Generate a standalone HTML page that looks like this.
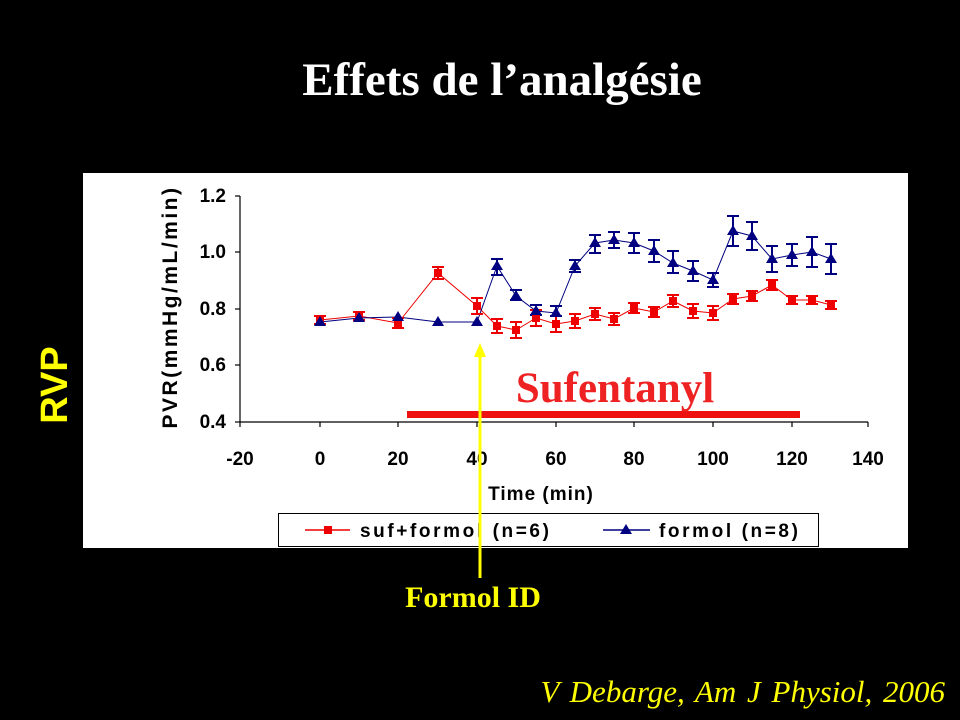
<!DOCTYPE html>
<html><head><meta charset="utf-8"><style>
html,body{margin:0;padding:0;background:#000;width:960px;height:720px;overflow:hidden}
</style></head><body>
<svg width="960" height="720" xmlns="http://www.w3.org/2000/svg">
<rect width="960" height="720" fill="#000"/>
<text x="502" y="95" fill="#fff" font-family="Liberation Serif" font-weight="bold" font-size="47" text-anchor="middle">Effets de l’analgésie</text>
<rect x="83" y="173" width="825" height="375" fill="#fff"/>
<text transform="translate(67,385) rotate(-90)" fill="#ff0" font-family="Liberation Sans" font-weight="bold" font-size="38" text-anchor="middle">RVP</text>
<text transform="translate(177,307) rotate(-90)" fill="#000" font-family="Liberation Sans" font-weight="bold" font-size="21" text-anchor="middle" letter-spacing="2.5">PVR(mmHg/mL/min)</text>
<g stroke="#000" stroke-width="1.2">
<line x1="240" y1="196" x2="240" y2="422"/><line x1="240" y1="422" x2="868" y2="422"/>
<line x1="235" y1="196" x2="240" y2="196"/><line x1="235" y1="252" x2="240" y2="252"/><line x1="235" y1="309" x2="240" y2="309"/><line x1="235" y1="365" x2="240" y2="365"/><line x1="235" y1="422" x2="240" y2="422"/>
<line x1="240" y1="422" x2="240" y2="427"/><line x1="320" y1="422" x2="320" y2="427"/><line x1="398" y1="422" x2="398" y2="427"/><line x1="477" y1="422" x2="477" y2="427"/><line x1="556" y1="422" x2="556" y2="427"/><line x1="634" y1="422" x2="634" y2="427"/><line x1="713" y1="422" x2="713" y2="427"/><line x1="792" y1="422" x2="792" y2="427"/><line x1="868" y1="422" x2="868" y2="427"/>
</g>
<g font-family="Liberation Sans" font-weight="bold" font-size="19" fill="#000" text-anchor="end">
<text x="226" y="202">1.2</text><text x="226" y="258">1.0</text><text x="226" y="315">0.8</text><text x="226" y="371">0.6</text><text x="226" y="428">0.4</text>
</g>
<g font-family="Liberation Sans" font-weight="bold" font-size="19" fill="#000" text-anchor="middle">
<text x="240" y="465">-20</text><text x="320" y="465">0</text><text x="398" y="465">20</text><text x="477" y="465">40</text><text x="556" y="465">60</text><text x="634" y="465">80</text><text x="713" y="465">100</text><text x="792" y="465">120</text><text x="868" y="465">140</text>
<text x="541" y="500" letter-spacing="1">Time (min)</text>
</g>
<polyline fill="none" stroke="#e00" stroke-width="1" points="320,320 359,316 398,323 438,273 477,306 497,326 516,330 536,318 556,324 575,321 595,314 614,319 634,308 654,312 673,301 693,311 713,313 733,299 752,296 772,285 792,300 812,300 831,305"/>
<polyline fill="none" stroke="#000080" stroke-width="1" points="320,322 359,318 398,317 438,322 477,322 497,266 516,296 536,311 556,313 575,266 595,243 614,240 634,243 654,251 673,263 693,271 713,280 733,231 752,236 772,259 792,255 812,252 831,259"/>
<g stroke-width="2">
<path stroke="#e00" d="M314,316h12M320,316v8M314,324h12 M353,312h12M359,312v8M353,320h12 M392,318h12M398,318v10M392,328h12 M432,267h12M438,267v12M432,279h12 M471,298h12M477,298v16M471,314h12 M491,319h12M497,319v14M491,333h12 M510,322h12M516,322v16M510,338h12 M530,310h12M536,310v16M530,326h12 M550,316h12M556,316v16M550,332h12 M569,314h12M575,314v14M569,328h12 M589,308h12M595,308v12M589,320h12 M608,313h12M614,313v12M608,325h12 M628,303h12M634,303v10M628,313h12 M648,307h12M654,307v10M648,317h12 M667,295h12M673,295v12M667,307h12 M687,304h12M693,304v14M687,318h12 M707,306h12M713,306v14M707,320h12 M727,294h12M733,294v10M727,304h12 M746,291h12M752,291v10M746,301h12 M766,280h12M772,280v10M766,290h12 M786,296h12M792,296v8M786,304h12 M806,296h12M812,296v8M806,304h12 M825,301h12M831,301v8M825,309h12"/>
<path stroke="#000080" d="M491,259h12M497,259v16M491,275h12 M510,290h12M516,290v10M510,300h12 M530,305h12M536,305v10M530,315h12 M550,306h12M556,306v10M550,316h12 M569,260h12M575,260v12M569,272h12 M589,235h12M595,235v18M589,253h12 M608,232h12M614,232v16M608,248h12 M628,233h12M634,233v20M628,253h12 M648,240h12M654,240v22M648,262h12 M667,251h12M673,251v22M667,273h12 M687,261h12M693,261v20M687,281h12 M707,273h12M713,273v14M707,287h12 M727,216h12M733,216v30M727,246h12 M746,222h12M752,222v28M746,250h12 M766,246h12M772,246v26M766,272h12 M786,244h12M792,244v22M786,266h12 M806,237h12M812,237v30M806,267h12 M825,244h12M831,244v30M825,274h12"/>
</g>
<g fill="#e00">
<rect x="316" y="316" width="8" height="8"/><rect x="355" y="312" width="8" height="8"/><rect x="394" y="319" width="8" height="8"/><rect x="434" y="269" width="8" height="8"/><rect x="473" y="302" width="8" height="8"/><rect x="493" y="322" width="8" height="8"/><rect x="512" y="326" width="8" height="8"/><rect x="532" y="314" width="8" height="8"/><rect x="552" y="320" width="8" height="8"/><rect x="571" y="317" width="8" height="8"/><rect x="591" y="310" width="8" height="8"/><rect x="610" y="315" width="8" height="8"/><rect x="630" y="304" width="8" height="8"/><rect x="650" y="308" width="8" height="8"/><rect x="669" y="297" width="8" height="8"/><rect x="689" y="307" width="8" height="8"/><rect x="709" y="309" width="8" height="8"/><rect x="729" y="295" width="8" height="8"/><rect x="748" y="292" width="8" height="8"/><rect x="768" y="281" width="8" height="8"/><rect x="788" y="296" width="8" height="8"/><rect x="808" y="296" width="8" height="8"/><rect x="827" y="301" width="8" height="8"/>
</g>
<g fill="#000080">
<path d="M320,316l-6,10h12z M359,312l-6,10h12z M398,311l-6,10h12z M438,316l-6,10h12z M477,316l-6,10h12z M497,260l-6,10h12z M516,290l-6,10h12z M536,305l-6,10h12z M556,307l-6,10h12z M575,260l-6,10h12z M595,237l-6,10h12z M614,234l-6,10h12z M634,237l-6,10h12z M654,245l-6,10h12z M673,257l-6,10h12z M693,265l-6,10h12z M713,274l-6,10h12z M733,225l-6,10h12z M752,230l-6,10h12z M772,253l-6,10h12z M792,249l-6,10h12z M812,246l-6,10h12z M831,253l-6,10h12z"/>
</g>
<rect x="407" y="411" width="393" height="7" fill="#ee1111"/>
<text x="615" y="402" fill="#ee2222" font-family="Liberation Serif" font-weight="bold" font-size="43" text-anchor="middle">Sufentanyl</text>
<rect x="278.5" y="513.5" width="540" height="33" fill="#fff" stroke="#000" stroke-width="1"/>
<line x1="305" y1="530" x2="350" y2="530" stroke="#e00" stroke-width="1.5"/><rect x="324" y="526" width="8" height="8" fill="#e00"/>
<line x1="603" y1="530" x2="650" y2="530" stroke="#000080" stroke-width="1.5"/><path d="M626,524l-6,10h12z" fill="#000080"/>
<g font-family="Liberation Sans" font-weight="bold" font-size="19" fill="#000" letter-spacing="2.6">
<text x="360" y="537">suf+formol (n=6)</text><text x="659" y="537">formol (n=8)</text>
</g>
<line x1="480" y1="355" x2="480" y2="578" stroke="#ff0" stroke-width="3"/>
<path d="M480,343l-6,14h12z" fill="#ff0"/>
<text x="473" y="607" fill="#ff0" font-family="Liberation Serif" font-weight="bold" font-size="30" text-anchor="middle">Formol ID</text>
<text x="945" y="702" fill="#ff0" font-family="Liberation Serif" font-style="italic" font-size="31" text-anchor="end" word-spacing="3">V Debarge, Am J Physiol, 2006</text>
</svg>
</body></html>
